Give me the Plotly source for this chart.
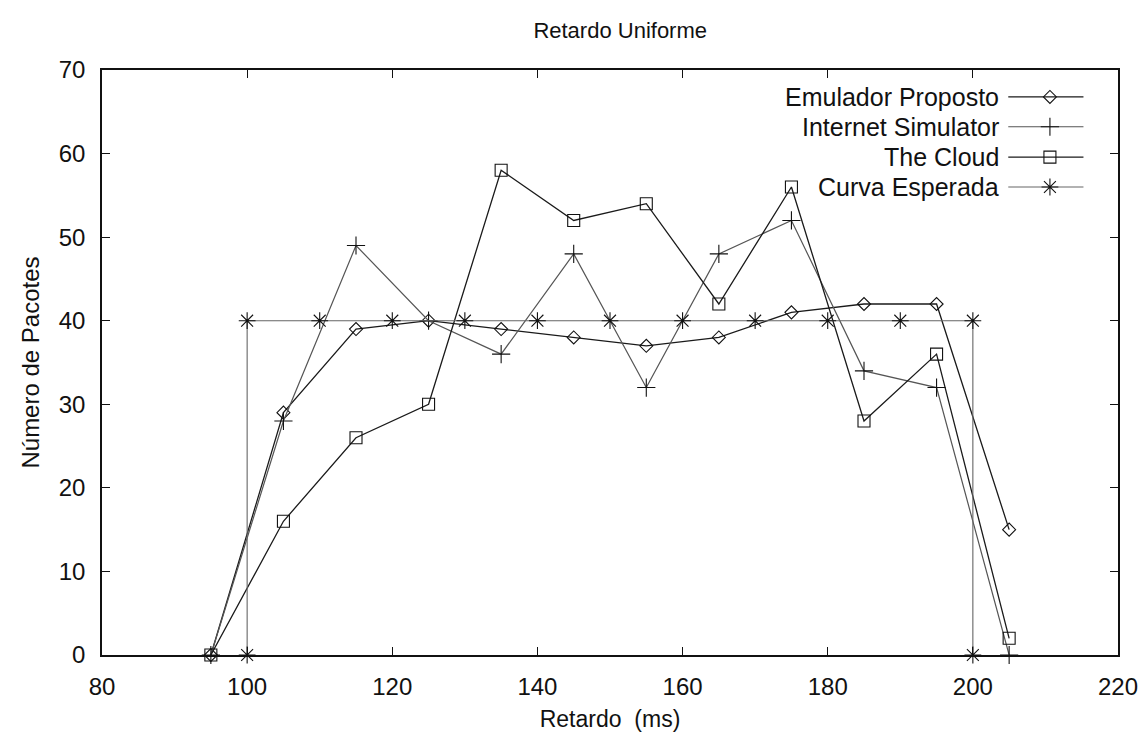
import plotly.graph_objects as go

# Delay bins (ms) and packet counts per series
retardo = [95, 105, 115, 125, 135, 145, 155, 165, 175, 185, 195, 205]
emulador_proposto = [0, 29, 39, 40, 39, 38, 37, 38, 41, 42, 42, 15]
internet_simulator = [0, 28, 49, 40, 36, 48, 32, 48, 52, 34, 32, 0]
the_cloud = [0, 16, 26, 30, 58, 52, 54, 42, 56, 28, 36, 2]

# Expected uniform curve between 100 and 200 ms
curva_x = [100, 100, 110, 120, 130, 140, 150, 160, 170, 180, 190, 200, 200]
curva_y = [0, 40, 40, 40, 40, 40, 40, 40, 40, 40, 40, 40, 0]

x_ticks = [80, 100, 120, 140, 160, 180, 200, 220]
y_ticks = [0, 10, 20, 30, 40, 50, 60, 70]

FONT = "Liberation Sans, Arial, sans-serif"

series = [
    ("Emulador Proposto", retardo, emulador_proposto,
     dict(symbol="diamond-open", size=10), "#1a1a1a", 1.3),
    ("Internet Simulator", retardo, internet_simulator,
     dict(symbol="cross-thin-open", size=13), "#555555", 1.2),
    ("The Cloud", retardo, the_cloud,
     dict(symbol="square-open", size=12), "#1a1a1a", 1.3),
    ("Curva Esperada", curva_x, curva_y,
     dict(symbol="asterisk-open", size=14), "#666666", 1.1),
]

fig = go.Figure()

for name, xs, ys, mk, col, w in series:
    fig.add_trace(go.Scatter(
        x=xs, y=ys, mode="lines+markers", name=name,
        line=dict(color=col, width=w),
        marker=dict(symbol=mk["symbol"], size=mk["size"], color="#111111",
                    line=dict(color="#222222", width=1.1)),
        showlegend=False, cliponaxis=False,
    ))

# Key in gnuplot style: label on the left, sample line + marker on the right
key_rows = [0.954, 0.903, 0.851, 0.800]
for (name, _, _, mk, col, w), ky in zip(series, key_rows):
    fig.add_trace(go.Scatter(
        x=[0.892, 0.966], y=[ky, ky], xaxis="x2", yaxis="y2",
        mode="lines", line=dict(color=col, width=w),
        showlegend=False, hoverinfo="skip",
    ))
    fig.add_trace(go.Scatter(
        x=[0.933], y=[ky], xaxis="x2", yaxis="y2", mode="markers",
        marker=dict(symbol=mk["symbol"], size=mk["size"], color="#111111",
                    line=dict(color="#222222", width=1.1)),
        showlegend=False, hoverinfo="skip",
    ))
    fig.add_annotation(
        x=0.885, y=ky, xref="paper", yref="paper", text=name,
        showarrow=False, xanchor="right", yanchor="middle",
        font=dict(family=FONT, size=25, color="#111111"),
    )

axis_common = dict(
    showgrid=False, zeroline=False, showline=True, linecolor="#111111",
    linewidth=1.6, mirror="ticks", ticks="inside", ticklen=8,
    tickwidth=1.4, tickcolor="#111111", ticklabeloverflow="allow",
    automargin=False,
    tickfont=dict(family=FONT, size=24, color="#111111"),
)

fig.update_layout(
    width=1138, height=743,
    margin=dict(l=102, r=20, t=70, b=88),
    paper_bgcolor="white", plot_bgcolor="white",
    title=dict(text="Retardo Uniforme", x=0.545, xanchor="center",
               y=1 - 30 / 743, yanchor="middle",
               font=dict(family=FONT, size=22, color="#111111")),
    xaxis=dict(range=[80, 220], tickvals=x_ticks, ticklabelstandoff=9,
               title=dict(text="Retardo  (ms)", standoff=12,
                          font=dict(family=FONT, size=23, color="#111111")),
               **axis_common),
    yaxis=dict(range=[0, 70], tickvals=y_ticks, ticklabelstandoff=10,
               title=dict(text="Número de Pacotes", standoff=12,
                          font=dict(family=FONT, size=24, color="#111111")),
               **axis_common),
    xaxis2=dict(overlaying="x", range=[0, 1], visible=False),
    yaxis2=dict(overlaying="y", range=[0, 1], visible=False),
)

fig.write_html("out.html")
